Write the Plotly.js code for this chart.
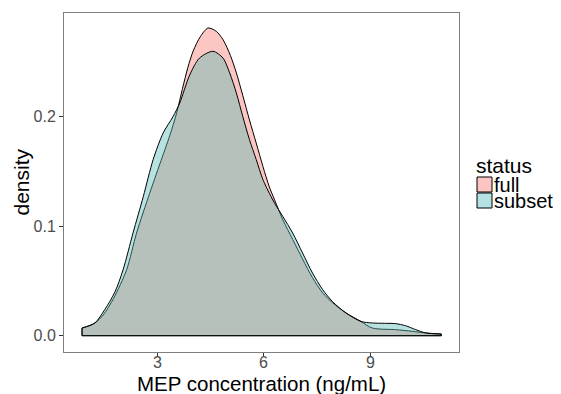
<!DOCTYPE html>
<html>
<head>
<meta charset="utf-8">
<script src="https://cdn.plot.ly/plotly-3.0.1.min.js"></script>
<style>html,body{margin:0;padding:0;background:#fff;}</style>
</head>
<body>
<div id="chart" style="width:561px;height:394px;"></div>
<script>
// ---- data (density curves) ----
const fullX = [0.86, 1.2, 1.46, 1.75, 2.12, 2.40, 2.77, 3.06, 3.34, 3.53, 3.70, 3.85, 4.0, 4.2, 4.42, 4.65, 4.85, 5.05, 5.22, 5.40, 5.59, 5.78, 5.97, 6.15, 6.30, 6.53, 6.81, 7.09, 7.37, 7.66, 7.94, 8.32, 8.74, 9.06, 9.72, 10.19, 10.57, 11.01];
const fullY = [0.007, 0.011, 0.019, 0.034, 0.0603, 0.0938, 0.130, 0.157, 0.183, 0.203, 0.226, 0.245, 0.260, 0.273, 0.281, 0.278, 0.270, 0.256, 0.240, 0.2195, 0.197, 0.176, 0.1546, 0.136, 0.124, 0.106, 0.088, 0.070, 0.053, 0.039, 0.030, 0.0207, 0.013, 0.007, 0.0055, 0.004, 0.0025, 0.0015];

const subsetX = [0.86, 1.22, 1.5, 1.79, 2.02, 2.30, 2.59, 2.87, 3.15, 3.43, 3.62, 3.90, 4.18, 4.56, 4.84, 5.03, 5.22, 5.40, 5.59, 5.78, 5.97, 6.20, 6.30, 6.53, 6.81, 7.09, 7.37, 7.66, 7.94, 8.32, 8.74, 9.06, 9.4, 9.72, 10.0, 10.29, 10.57, 11.01];
const subsetY = [0.007, 0.0116, 0.0237, 0.040, 0.0603, 0.0938, 0.127, 0.161, 0.185, 0.200, 0.2125, 0.238, 0.2536, 0.2597, 0.2536, 0.240, 0.2216, 0.2003, 0.179, 0.161, 0.1425, 0.127, 0.121, 0.109, 0.0938, 0.0755, 0.0573, 0.042, 0.031, 0.0207, 0.013, 0.0116, 0.0113, 0.011, 0.0091, 0.0055, 0.0025, 0.0015];

const groupNames = ["full", "subset"];
const legendTitle = "status";
const xTicks = [3, 6, 9];
const yTicks = [0.0, 0.1, 0.2];
const xTitle = "MEP concentration (ng/mL)";
const yTitle = "density";

// ---- styles ----
const fills = ["rgba(248,118,109,0.42)", "rgba(85,185,182,0.42)"];
const keyFills = ["rgb(252,197,194)", "rgb(180,226,226)"];
const FONT = "Liberation Sans, Arial, Helvetica, sans-serif";

function densityTraces(xs, ys, fill, name) {
  const last = xs.length - 1;
  return [
    {x: xs, y: ys, type: "scatter", mode: "lines", name: name,
     line: {color: "black", width: 1, shape: "spline", smoothing: 0.8},
     fill: "tozeroy", fillcolor: fill, showlegend: false, hoverinfo: "skip"},
    {x: [xs[0], xs[0], null, xs[last], xs[last], null, xs[0], xs[last]],
     y: [0, ys[0], null, 0, ys[last], null, 0, 0],
     type: "scatter", mode: "lines", line: {color: "black", width: 1},
     showlegend: false, hoverinfo: "skip"}
  ];
}

const data = [].concat(
  densityTraces(fullX, fullY, fills[0], groupNames[0]),
  densityTraces(subsetX, subsetY, fills[1], groupNames[1])
);

// plot area: left 64, right 459, top 13, bottom 352 (px)
const L = 64, R = 459, T = 13, B = 352;
const px2x = p => (p - L) / (R - L);
const py2y = p => (B - p) / (B - T);

const shapes = [];
const annotations = [];
annotations.push({xref: "paper", yref: "paper", x: px2x(475), y: py2y(165),
  xanchor: "left", yanchor: "middle", showarrow: false, text: legendTitle,
  borderpad: 0, height: 18,
  font: {family: FONT, size: 21, color: "black"}});
groupNames.forEach((g, i) => {
  const top = 177 + i * 16;
  shapes.push({type: "rect", xref: "paper", yref: "paper",
    x0: px2x(477), x1: px2x(492), y0: py2y(top + 15), y1: py2y(top),
    fillcolor: keyFills[i], line: {color: "black", width: 1}});
  annotations.push({xref: "paper", yref: "paper", x: px2x(493), y: py2y(top + 7.5),
    xanchor: "left", yanchor: "middle", showarrow: false, text: g,
    borderpad: 0, height: 16,
    font: {family: FONT, size: 20, color: "black"}});
});
// x tick labels (placed on the x scale)
xTicks.forEach(v => {
  annotations.push({xref: "x", yref: "paper", x: v, y: py2y(363),
    xanchor: "center", yanchor: "middle", showarrow: false, text: String(v),
    borderpad: 0, font: {family: FONT, size: 16, color: "#4D4D4D"}});
});
// axis titles
annotations.push({xref: "paper", yref: "paper", x: 0.5, y: py2y(383),
  xanchor: "center", yanchor: "middle", showarrow: false, text: xTitle,
  borderpad: 0, font: {family: FONT, size: 20.5, color: "black"}});
annotations.push({xref: "paper", yref: "paper", x: px2x(21), y: 0.5,
  xanchor: "center", yanchor: "middle", showarrow: false, text: yTitle, textangle: -90,
  font: {family: FONT, size: 21, color: "black"}});

const layout = {
  width: 561, height: 394,
  margin: {l: L, r: 561 - R, t: T, b: 394 - B, pad: 0},
  paper_bgcolor: "white", plot_bgcolor: "white",
  showlegend: false,
  font: {family: FONT},
  xaxis: {
    range: [0.35, 11.51], tickvals: xTicks, showticklabels: false,
    showgrid: false, zeroline: false,
    showline: true, mirror: true, linecolor: "#7F7F7F", linewidth: 1,
    ticks: "outside", ticklen: 4, tickcolor: "#333333", tickwidth: 1
  },
  yaxis: {
    range: [-0.0149, 0.2947], tickvals: yTicks, ticktext: yTicks.map(v => v.toFixed(1)),
    showgrid: false, zeroline: false,
    showline: true, mirror: true, linecolor: "#7F7F7F", linewidth: 1,
    ticks: "outside", ticklen: 4, tickcolor: "#333333", tickwidth: 1,
    tickfont: {family: FONT, size: 16, color: "#4D4D4D"}
  },
  shapes: shapes,
  annotations: annotations
};

Plotly.newPlot("chart", data, layout, {displayModeBar: false, staticPlot: true});
</script>
</body>
</html>
